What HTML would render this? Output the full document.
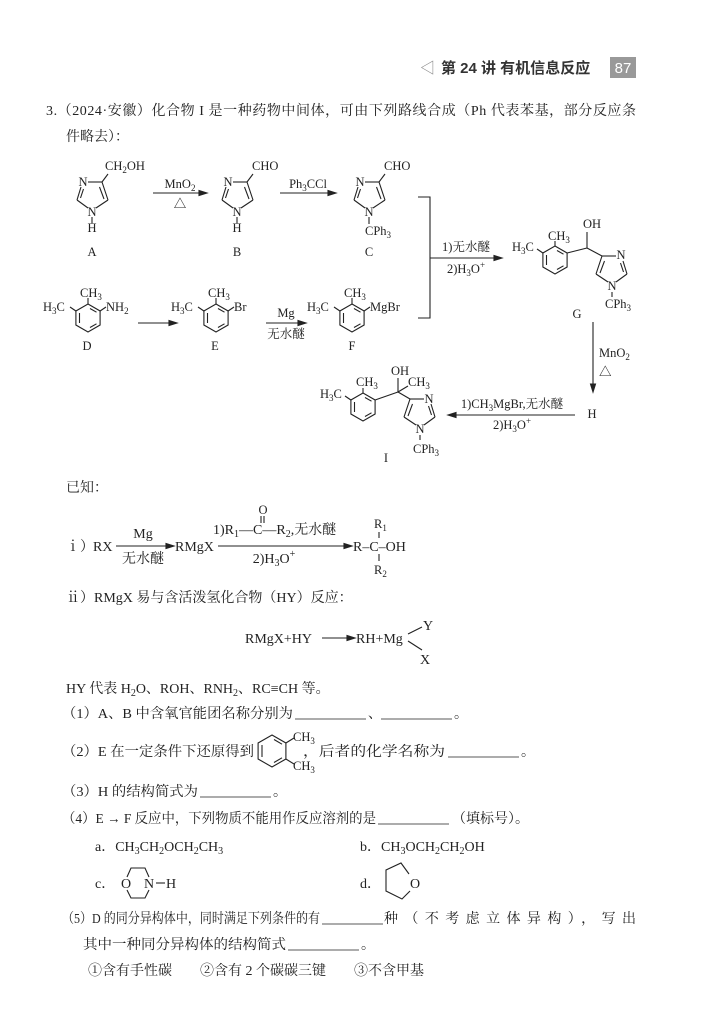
<!DOCTYPE html>
<html><head><meta charset="utf-8"><style>
html,body{margin:0;padding:0;background:#fff;}
svg{display:block}
text{font-family:"Liberation Serif","Noto Serif CJK SC",serif;font-size:14px;fill:#222}
.s{font-size:12.5px}
.h{font-family:"Liberation Sans","Noto Sans CJK SC",sans-serif;font-weight:bold;font-size:15px;fill:#333}
line,polyline,polygon,path{stroke:#222;stroke-width:1.1;fill:none}
</style></head><body>
<svg width="723" height="1024" viewBox="0 0 723 1024" xmlns="http://www.w3.org/2000/svg">
<defs>
<g id="bz">
<polygon points="0,-14 12.1,-7 12.1,7 0,14 -12.1,7 -12.1,-7"/>
<line x1="2" y1="-9.5" x2="8.5" y2="-5.8"/>
<line x1="8.5" y1="5.8" x2="2" y2="9.5"/>
<line x1="-8.5" y1="5" x2="-8.5" y2="-5"/>
</g>
<g id="im">
<line x1="-4" y1="-30" x2="10" y2="-30"/>
<line x1="10" y1="-30" x2="16" y2="-12"/>
<line x1="7.5" y1="-25" x2="12" y2="-13"/>
<line x1="16" y1="-12" x2="4" y2="-4"/>
<line x1="-4" y1="-4" x2="-15" y2="-12"/>
<line x1="-15" y1="-12" x2="-11" y2="-25"/>
<line x1="-11.5" y1="-14" x2="-8.5" y2="-23"/>
</g>
</defs>
<!-- header -->
<text x="420" y="73" class="h" style="font-weight:normal;fill:#888">◁</text>
<text x="441" y="73" class="h">第 24 讲  有机信息反应</text>
<rect x="610" y="57" width="26" height="21" fill="#999"/>
<text x="623" y="73" class="h" text-anchor="middle" style="fill:#fff;font-weight:normal">87</text>

<text x="46" y="115" textLength="590" lengthAdjust="spacing">3.（2024·安徽）化合物 I 是一种药物中间体，可由下列路线合成（Ph 代表苯基，部分反应条</text>
<text x="66" y="141">件略去）：</text>

<!-- A -->
<g transform="translate(92,212)"><use href="#im"/><line x1="10" y1="-30" x2="16" y2="-38"/><line x1="0" y1="5" x2="0" y2="12"/></g>
<text x="83" y="186" class="s" text-anchor="middle">N</text>
<text x="92" y="216" class="s" text-anchor="middle">N</text>
<text x="92" y="232" class="s" text-anchor="middle">H</text>
<text x="92" y="256" class="s" text-anchor="middle">A</text>
<text x="105" y="170" class="s">CH<tspan font-size="9" dy="3">2</tspan><tspan dy="-3">OH</tspan></text>
<!-- B -->
<g transform="translate(237,212)"><use href="#im"/><line x1="10" y1="-30" x2="16" y2="-38"/><line x1="0" y1="5" x2="0" y2="12"/></g>
<text x="228" y="186" class="s" text-anchor="middle">N</text>
<text x="237" y="216" class="s" text-anchor="middle">N</text>
<text x="237" y="232" class="s" text-anchor="middle">H</text>
<text x="237" y="256" class="s" text-anchor="middle">B</text>
<text x="252" y="170" class="s">CHO</text>
<!-- C -->
<g transform="translate(369,212)"><use href="#im"/><line x1="10" y1="-30" x2="16" y2="-38"/><line x1="0" y1="5" x2="0" y2="12"/></g>
<text x="360" y="186" class="s" text-anchor="middle">N</text>
<text x="369" y="216" class="s" text-anchor="middle">N</text>
<text x="365" y="235" class="s">CPh<tspan font-size="9" dy="3">3</tspan></text>
<text x="369" y="256" class="s" text-anchor="middle">C</text>
<text x="384" y="170" class="s">CHO</text>
<!-- arrows top -->
<line x1="153" y1="193" x2="205" y2="193"/><polygon points="207,193 199,190.5 199,195.5" style="fill:#222"/>
<text x="180" y="188" class="s" text-anchor="middle">MnO<tspan font-size="9" dy="3">2</tspan></text>
<text x="180" y="208" class="s" text-anchor="middle">△</text>
<line x1="280" y1="193" x2="334" y2="193"/><polygon points="336,193 328,190.5 328,195.5" style="fill:#222"/>
<text x="308" y="188" class="s" text-anchor="middle">Ph<tspan font-size="9" dy="3">3</tspan><tspan dy="-3">CCl</tspan></text>
<!-- bracket -->
<polyline points="418,197 430,197 430,318 418,318"/>
<line x1="430" y1="258" x2="500" y2="258"/><polygon points="502,258 494,255.5 494,260.5" style="fill:#222"/>
<text x="466" y="251" class="s" text-anchor="middle">1)无水醚</text>
<text x="466" y="273" class="s" text-anchor="middle">2)H<tspan font-size="9" dy="3">3</tspan><tspan dy="-3">O</tspan><tspan font-size="9" dy="-5">+</tspan></text>
<!-- D E F -->
<g transform="translate(88,318)"><use href="#bz"/><line x1="0" y1="-14" x2="0" y2="-20"/><line x1="-12.1" y1="-7" x2="-18" y2="-11"/><line x1="12.1" y1="-7" x2="18" y2="-11"/></g>
<text x="43" y="311" class="s">H<tspan font-size="9" dy="3">3</tspan><tspan dy="-3">C</tspan></text>
<text x="80" y="297" class="s">CH<tspan font-size="9" dy="3">3</tspan></text>
<text x="106" y="311" class="s">NH<tspan font-size="9" dy="3">2</tspan></text>
<text x="87" y="350" class="s" text-anchor="middle">D</text>
<line x1="138" y1="323" x2="175" y2="323"/><polygon points="177,323 169,320.5 169,325.5" style="fill:#222"/>
<g transform="translate(216,318)"><use href="#bz"/><line x1="0" y1="-14" x2="0" y2="-20"/><line x1="-12.1" y1="-7" x2="-18" y2="-11"/><line x1="12.1" y1="-7" x2="18" y2="-11"/></g>
<text x="171" y="311" class="s">H<tspan font-size="9" dy="3">3</tspan><tspan dy="-3">C</tspan></text>
<text x="208" y="297" class="s">CH<tspan font-size="9" dy="3">3</tspan></text>
<text x="234" y="311" class="s">Br</text>
<text x="215" y="350" class="s" text-anchor="middle">E</text>
<line x1="266" y1="323" x2="304" y2="323"/><polygon points="306,323 298,320.5 298,325.5" style="fill:#222"/>
<text x="286" y="317" class="s" text-anchor="middle">Mg</text>
<text x="286" y="338" class="s" text-anchor="middle">无水醚</text>
<g transform="translate(352,318)"><use href="#bz"/><line x1="0" y1="-14" x2="0" y2="-20"/><line x1="-12.1" y1="-7" x2="-18" y2="-11"/><line x1="12.1" y1="-7" x2="18" y2="-11"/></g>
<text x="307" y="311" class="s">H<tspan font-size="9" dy="3">3</tspan><tspan dy="-3">C</tspan></text>
<text x="344" y="297" class="s">CH<tspan font-size="9" dy="3">3</tspan></text>
<text x="370" y="311" class="s">MgBr</text>
<text x="352" y="350" class="s" text-anchor="middle">F</text>
<!-- G -->
<g transform="translate(555,260)"><use href="#bz"/><line x1="0" y1="-14" x2="0" y2="-19"/><line x1="-12.1" y1="-7" x2="-18" y2="-11"/><line x1="12.1" y1="-7" x2="32" y2="-12"/></g>
<text x="512" y="251" class="s">H<tspan font-size="9" dy="3">3</tspan><tspan dy="-3">C</tspan></text>
<text x="548" y="240" class="s">CH<tspan font-size="9" dy="3">3</tspan></text>
<line x1="587" y1="248" x2="587" y2="232"/>
<text x="583" y="228" class="s">OH</text>
<line x1="587" y1="248" x2="602" y2="256"/>
<g transform="translate(612,286) scale(-1,1)"><use href="#im"/></g>
<text x="621" y="259" class="s" text-anchor="middle">N</text>
<text x="612" y="290" class="s" text-anchor="middle">N</text>
<line x1="612" y1="292" x2="612" y2="297"/>
<text x="605" y="308" class="s">CPh<tspan font-size="9" dy="3">3</tspan></text>
<text x="577" y="318" class="s" text-anchor="middle">G</text>
<!-- G->H -->
<line x1="593" y1="322" x2="593" y2="390"/><polygon points="593,392 590.5,384 595.5,384" style="fill:#222"/>
<text x="599" y="357" class="s">MnO<tspan font-size="9" dy="3">2</tspan></text>
<text x="599" y="376" class="s">△</text>
<text x="592" y="418" class="s" text-anchor="middle">H</text>
<line x1="575" y1="415" x2="450" y2="415"/><polygon points="448,415 456,412.5 456,417.5" style="fill:#222"/>
<text x="512" y="408" class="s" text-anchor="middle">1)CH<tspan font-size="9" dy="3">3</tspan><tspan dy="-3">MgBr,无水醚</tspan></text>
<text x="512" y="429" class="s" text-anchor="middle">2)H<tspan font-size="9" dy="3">3</tspan><tspan dy="-3">O</tspan><tspan font-size="9" dy="-5">+</tspan></text>
<!-- I -->
<g transform="translate(363,407)"><use href="#bz"/><line x1="0" y1="-14" x2="0" y2="-19"/><line x1="-12.1" y1="-7" x2="-18" y2="-11"/><line x1="12.1" y1="-7" x2="35" y2="-15"/></g>
<text x="320" y="398" class="s">H<tspan font-size="9" dy="3">3</tspan><tspan dy="-3">C</tspan></text>
<text x="356" y="386" class="s">CH<tspan font-size="9" dy="3">3</tspan></text>
<line x1="398" y1="392" x2="398" y2="378"/>
<text x="391" y="375" class="s">OH</text>
<line x1="398" y1="392" x2="408" y2="386"/>
<text x="408" y="386" class="s">CH<tspan font-size="9" dy="3">3</tspan></text>
<line x1="398" y1="392" x2="410" y2="399"/>
<g transform="translate(420,429) scale(-1,1)"><use href="#im"/></g>
<text x="429" y="403" class="s" text-anchor="middle">N</text>
<text x="420" y="433" class="s" text-anchor="middle">N</text>
<line x1="420" y1="435" x2="420" y2="440"/>
<text x="413" y="453" class="s">CPh<tspan font-size="9" dy="3">3</tspan></text>
<text x="386" y="462" class="s" text-anchor="middle">I</text>

<!-- known -->
<text x="66" y="492">已知：</text>
<text x="66" y="551">ⅰ）</text>
<text x="93" y="551">RX</text>
<line x1="116" y1="546" x2="172" y2="546"/><polygon points="174,546 166,543.5 166,548.5" style="fill:#222"/>
<text x="143" y="538" text-anchor="middle">Mg</text>
<text x="143" y="563" text-anchor="middle">无水醚</text>
<text x="175" y="551">RMgX</text>
<line x1="218" y1="546" x2="350" y2="546"/><polygon points="352,546 344,543.5 344,548.5" style="fill:#222"/>
<text x="213" y="534">1)R<tspan font-size="10" dy="3">1</tspan><tspan dy="-3">—C—R</tspan><tspan font-size="10" dy="3">2</tspan><tspan dy="-3">,无水醚</tspan></text>
<text x="263" y="514" class="s" text-anchor="middle">O</text>
<line x1="261" y1="516" x2="261" y2="523"/><line x1="264" y1="516" x2="264" y2="523"/>
<text x="274" y="563" text-anchor="middle">2)H<tspan font-size="10" dy="3">3</tspan><tspan dy="-3">O</tspan><tspan font-size="10" dy="-6">+</tspan></text>
<text x="353" y="551">R–C–OH</text>
<text x="374" y="528" class="s">R<tspan font-size="9" dy="3">1</tspan></text>
<line x1="379" y1="532" x2="379" y2="538"/>
<line x1="379" y1="554" x2="379" y2="561"/>
<text x="374" y="574" class="s">R<tspan font-size="9" dy="3">2</tspan></text>
<text x="66" y="602">ⅱ）RMgX 易与含活泼氢化合物（HY）反应：</text>
<text x="245" y="643">RMgX+HY</text>
<line x1="322" y1="638" x2="353" y2="638"/><polygon points="355,638 347,635.5 347,640.5" style="fill:#222"/>
<text x="356" y="643">RH+Mg</text>
<line x1="408" y1="634" x2="422" y2="627"/><line x1="408" y1="641" x2="422" y2="650"/>
<text x="423" y="630">Y</text>
<text x="420" y="664">X</text>

<text x="66" y="693">HY 代表 H<tspan font-size="10" dy="3">2</tspan><tspan dy="-3">O、ROH、RNH</tspan><tspan font-size="10" dy="3">2</tspan><tspan dy="-3">、RC≡CH 等。</tspan></text>
<text x="62" y="718" textLength="231" lengthAdjust="spacingAndGlyphs">（1）A、B 中含氧官能团名称分别为</text>
<line x1="295" y1="719" x2="366" y2="719" style="stroke-width:0.8"/>
<text x="368" y="718">、</text>
<line x1="381" y1="719" x2="452" y2="719" style="stroke-width:0.8"/>
<text x="454" y="718">。</text>

<text x="62" y="756" textLength="192" lengthAdjust="spacingAndGlyphs">（2）E 在一定条件下还原得到</text>
<g transform="translate(272,751)">
<polygon points="0,-16 13.9,-8 13.9,8 0,16 -13.9,8 -13.9,-8"/>
<line x1="2" y1="-11.5" x2="10" y2="-6.8"/><line x1="10" y1="6.8" x2="2" y2="11.5"/><line x1="-10" y1="6" x2="-10" y2="-6"/>
<line x1="13.9" y1="-8" x2="22" y2="-13"/><line x1="13.9" y1="8" x2="22" y2="13"/>
</g>
<text x="293" y="741" class="s">CH<tspan font-size="9" dy="3">3</tspan></text>
<text x="293" y="770" class="s">CH<tspan font-size="9" dy="3">3</tspan></text>
<text x="303" y="756" textLength="142" lengthAdjust="spacingAndGlyphs">，后者的化学名称为</text>
<line x1="448" y1="757" x2="519" y2="757" style="stroke-width:0.8"/>
<text x="521" y="756">。</text>

<text x="62" y="796" textLength="136" lengthAdjust="spacingAndGlyphs">（3）H 的结构简式为</text>
<line x1="200" y1="797" x2="271" y2="797" style="stroke-width:0.8"/>
<text x="273" y="796">。</text>
<text x="62" y="823" textLength="314" lengthAdjust="spacingAndGlyphs">（4）E → F 反应中，下列物质不能用作反应溶剂的是</text>
<line x1="378" y1="824" x2="449" y2="824" style="stroke-width:0.8"/>
<text x="452" y="823">（填标号）。</text>
<text x="95" y="851">a．CH<tspan font-size="10" dy="3">3</tspan><tspan dy="-3">CH</tspan><tspan font-size="10" dy="3">2</tspan><tspan dy="-3">OCH</tspan><tspan font-size="10" dy="3">2</tspan><tspan dy="-3">CH</tspan><tspan font-size="10" dy="3">3</tspan></text>
<text x="360" y="851">b．CH<tspan font-size="10" dy="3">3</tspan><tspan dy="-3">OCH</tspan><tspan font-size="10" dy="3">2</tspan><tspan dy="-3">CH</tspan><tspan font-size="10" dy="3">2</tspan><tspan dy="-3">OH</tspan></text>
<text x="95" y="888">c．</text>
<text x="126" y="888" text-anchor="middle">O</text>
<text x="149" y="888" text-anchor="middle">N</text>
<polyline points="127,877 131,868 145,868 149,877"/>
<polyline points="127,890 131,898 145,898 149,890"/>
<line x1="156" y1="883" x2="165" y2="883"/>
<text x="166" y="888">H</text>
<text x="360" y="888">d．</text>
<polyline points="409,874 401,863 386,870 386,891 402,899 410,891"/>
<text x="410" y="888">O</text>

<text x="62" y="923" textLength="258" lengthAdjust="spacingAndGlyphs">（5）D 的同分异构体中，同时满足下列条件的有</text>
<line x1="322" y1="924" x2="383" y2="924" style="stroke-width:0.8"/>
<text x="384" y="923" textLength="252" lengthAdjust="spacing">种（不考虑立体异构），写出</text>
<text x="83" y="949" textLength="203" lengthAdjust="spacingAndGlyphs">其中一种同分异构体的结构简式</text>
<line x1="288" y1="950" x2="359" y2="950" style="stroke-width:0.8"/>
<text x="361" y="949">。</text>
<text x="88" y="975">①含有手性碳　　②含有 2 个碳碳三键　　③不含甲基</text>
</svg>
</body></html>
